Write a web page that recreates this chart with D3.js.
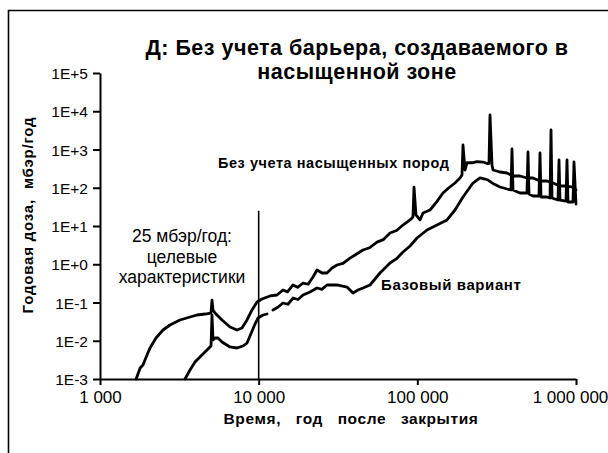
<!DOCTYPE html>
<html>
<head>
<meta charset="utf-8">
<script src="https://cdn.jsdelivr.net/npm/d3@7/dist/d3.min.js"></script>
<style>
  html, body { margin: 0; padding: 0; background: #fff; }
  svg { display: block; }
  text { font-family: "Liberation Sans", Arial, Helvetica, sans-serif; fill: #000; }
</style>
</head>
<body>
<svg id="chart" width="608" height="453"></svg>
<script>
// ---- data ----
const titleLines = ["Д: Без учета барьера, создаваемого в", "насыщенной зоне"];
const xTickValues = [1000, 10000, 100000, 1000000];
const xTickLabels = ["1 000", "10 000", "100 000", "1 000 000"];
const yTickValues = [1e-3, 1e-2, 1e-1, 1e0, 1e1, 1e2, 1e3, 1e4, 1e5];
const yTickLabels = ["1E-3", "1E-2", "1E-1", "1E+0", "1E+1", "1E+2", "1E+3", "1E+4", "1E+5"];

// "Без учета насыщенных пород"
const timeUpper = [1690, 1790, 1866, 1978, 2066, 2254, 2495, 2762, 3193, 3692, 4086, 4589, 5007, 5081, 5155, 5306,
  5873, 6597, 7302, 7851, 8443, 9078, 9761, 10496, 11788, 13048, 14237, 15200, 16459, 17600, 19031, 20500, 22000,
  23317, 25065, 26958, 29000, 31168, 34000, 37640, 41000, 45447, 50000, 55695, 61000, 67250, 74000, 81213, 91201,
  93911, 95284, 98085, 103940, 108570, 120200, 132000, 145080, 158000, 172740, 185740, 191200, 194020, 199700,
  205570, 221020, 237680, 259300, 274790, 282900, 287060, 295510, 299830, 331850, 367280, 400800, 443600, 491000,
  535600, 593000, 656600, 716100, 792800, 864800, 957200, 1000000];
const doseUpper = [0.001, 0.00194, 0.00232, 0.00424, 0.00646, 0.0118, 0.0191, 0.0258, 0.0349, 0.0418, 0.0471, 0.05,
  0.0531, 0.116, 0.0637, 0.0531, 0.0349, 0.0229, 0.0191, 0.0215, 0.0349, 0.0637, 0.103, 0.123, 0.148, 0.157, 0.212,
  0.19, 0.287, 0.25, 0.323, 0.3, 0.464, 0.707, 0.59, 0.59, 0.8, 0.956, 1.05, 1.45, 1.8, 2.36, 2.7, 3.8, 4.4, 6.56,
  7.6, 10.6, 15.2, 17.2, 104, 19.4, 14.4, 21.9, 26.2, 42, 72.9, 100, 133, 180, 215, 1311, 291, 450, 450, 480, 470,
  430, 430, 7982, 393, 291, 258, 243, 203, 203, 180, 180, 150, 150, 133, 111, 111, 104, 87];

// "Базовый вариант"
const timeBase = [3434, 3692, 3968, 4267, 4589, 4934, 5007, 5081, 5155, 5306, 5542, 5873, 6597, 7302, 7966, 8443,
  8818, 9483, 9904, 10650, 11287, 11800, 12310, 13200, 14237, 15300, 16459, 17700, 19031, 21063, 23317, 25000, 26958,
  31168, 36038, 39310, 42267, 45447, 50300, 58167, 67250, 74000, 81213, 90000, 99520, 115070, 133030, 153810, 172740,
  194020, 208580, 224250, 248250, 266920, 278800, 304210, 331850, 367280, 389240, 395000, 400800, 443600, 491000,
  498200, 505400, 535600, 584600, 593000, 601600, 656600, 685800, 695800, 706000, 770000, 781400, 792800, 864800,
  877500, 890300, 957200, 971200, 1000000];
const doseBase = [0.001, 0.00172, 0.00278, 0.00376, 0.00508, 0.00687, 0.00729, 0.0471, 0.0105, 0.0118, 0.0118,
  0.00927, 0.00687, 0.00646, 0.00729, 0.00873, 0.0133, 0.0274, 0.0393, 0.0471, 0.05, null, 0.0637, 0.075, 0.097,
  0.09, 0.131, 0.12, 0.157, 0.188, 0.239, 0.22, 0.287, 0.287, 0.254, 0.177, 0.212, 0.239, 0.287, 0.59, 1.078, 1.4,
  2.09, 3.0, 4.86, 7.86, 10.6, 14.4, 26.2, 57.3, 87.4, 133, 180, 169, 159, 125, 104.6, 92.7, 87.4, 1031, 87.4, 72.9,
  72.9, 860, 68.6, 60.9, 60.9, 810, 57.3, 57.3, 54, 3235, 54, 47.8, 531, 47.8, 45, 531, 42.4, 42.4, 471, 37.6];

const limitTime = 10000;
const limitDose = 25;
const labelUpper = "Без учета насыщенных пород";
const labelBase = "Базовый вариант";
const limitText = ["25 мбэр/год:", "целевые", "характеристики"];
const xTitle = "Время,   год   после   закрытия";
const yTitle = "Годовая доза,  мбэр/год";

// ---- drawing ----
const svg = d3.select("#chart");
const x = d3.scaleLog().domain([1000, 1e6]).range([100, 576]);
const y = d3.scaleLog().domain([1e-3, 1e5]).range([379, 73]);

// frame
svg.append("path")
  .attr("d", "M8.5,453 L8.5,10.5 L608,10.5")
  .attr("fill", "none").attr("stroke", "#000").attr("stroke-width", 1.6);

// title
svg.append("g").selectAll("text").data(titleLines).join("text")
  .attr("x", 357).attr("y", (d, i) => 55 + i * 24)
  .attr("text-anchor", "middle")
  .style("font-size", "21.5px").style("font-weight", "bold").style("letter-spacing", "0.5px")
  .text(d => d);

// axes
const xAxis = svg.append("g").attr("transform", "translate(0,379)")
  .call(d3.axisBottom(x).tickValues(xTickValues).tickFormat((d, i) => xTickLabels[i]).tickSize(6).tickSizeOuter(0).tickPadding(6));
const yAxis = svg.append("g").attr("transform", "translate(100,0)")
  .call(d3.axisLeft(y).tickValues(yTickValues).tickFormat((d, i) => yTickLabels[i]).tickSize(7).tickSizeOuter(0).tickPadding(5));

[xAxis, yAxis].forEach(g => {
  g.select(".domain").attr("stroke", "#000").attr("stroke-width", 2);
  g.selectAll(".tick line").attr("stroke", "#000").attr("stroke-width", 2);
  g.selectAll(".tick text").attr("fill", "#000").style("font-family", "\"Liberation Sans\", Arial, sans-serif");
});
xAxis.selectAll(".tick text").style("font-size", "17px");
yAxis.selectAll(".tick text").style("font-size", "15.5px").attr("dy", "0.36em");
xAxis.selectAll(".tick").filter(d => d === 1e6).select("text").attr("dx", -6);

// axis titles
svg.append("text").attr("x", 351).attr("y", 424).attr("text-anchor", "middle")
  .attr("xml:space", "preserve").style("white-space", "pre")
  .style("font-size", "15.5px").style("font-weight", "bold").style("letter-spacing", "0.6px").text(xTitle);
svg.append("text").attr("transform", "translate(33,215) rotate(-90)").attr("text-anchor", "middle")
  .attr("xml:space", "preserve").style("white-space", "pre")
  .style("font-size", "15px").style("font-weight", "bold").style("letter-spacing", "0.8px").text(yTitle);

// limit line
svg.append("line")
  .attr("x1", x(limitTime)).attr("x2", x(limitTime))
  .attr("y1", y(1e-3)).attr("y2", y(limitDose))
  .attr("stroke", "#000").attr("stroke-width", 1.6);

// series
const line = d3.line()
  .defined(d => d[1] !== null)
  .x(d => x(d[0])).y(d => y(d[1]));
const upper = timeUpper.map((t, i) => [t, doseUpper[i]]);
const base = timeBase.map((t, i) => [t, doseBase[i]]);
[upper, base].forEach(s => {
  svg.append("path").datum(s).attr("d", line)
    .attr("fill", "none").attr("stroke", "#000").attr("stroke-width", 2.8)
    .attr("stroke-linejoin", "round").attr("stroke-linecap", "round");
});

// annotations
svg.append("text").attr("x", 218).attr("y", 168)
  .style("font-size", "14.5px").style("font-weight", "bold").style("letter-spacing", "0.55px").text(labelUpper);
svg.append("text").attr("x", 381).attr("y", 290)
  .style("font-size", "15px").style("font-weight", "bold").style("letter-spacing", "0.6px").text(labelBase);
svg.append("g").selectAll("text").data(limitText).join("text")
  .attr("x", 182).attr("y", (d, i) => 242 + i * 20.5)
  .attr("text-anchor", "middle").style("font-size", "17.5px")
  .text(d => d);
</script>
</body>
</html>
